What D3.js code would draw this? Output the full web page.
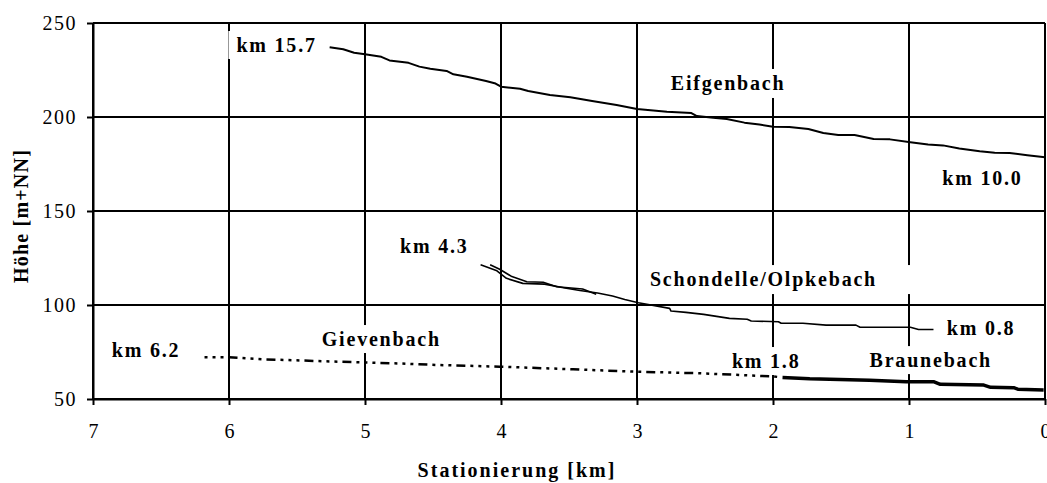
<!DOCTYPE html>
<html>
<head>
<meta charset="utf-8">
<script src="https://cdn.jsdelivr.net/npm/d3@7"></script>
<style>
  html, body { margin: 0; padding: 0; background: #fff; }
  svg { display: block; }
  text { font-family: "Liberation Serif", "Times New Roman", serif; fill: #000; }
</style>
</head>
<body>
<svg id="chart" width="1047" height="483"></svg>
<script>
// Axis ticks
const xTicks = [7, 6, 5, 4, 3, 2, 1, 0];
const yTicks = [50, 100, 150, 200, 250];

// Longitudinal profiles: [Stationierung km, Höhe m+NN]
const eifgenbach = [
  [5.26, 237.1], [5.16, 236.0], [5.08, 234.2], [5.00, 233.4], [4.88, 232.0], [4.82, 230.1],
  [4.68, 228.8], [4.60, 226.8], [4.52, 225.7], [4.40, 224.5], [4.35, 222.7], [4.25, 221.4],
  [4.11, 219.1], [4.04, 217.8], [4.00, 216.1], [3.86, 215.0], [3.80, 213.8], [3.64, 211.7],
  [3.49, 210.5], [3.33, 208.5], [3.15, 206.4], [3.00, 204.3], [2.88, 203.4], [2.78, 202.8],
  [2.60, 202.1], [2.56, 200.5], [2.44, 199.6], [2.34, 198.9], [2.21, 197.0], [2.10, 196.0],
  [2.00, 194.8], [1.88, 194.7], [1.74, 193.6], [1.63, 191.5], [1.52, 190.4], [1.40, 190.4],
  [1.26, 188.3], [1.14, 188.1], [0.99, 186.6], [0.86, 185.4], [0.75, 184.9], [0.63, 183.2],
  [0.48, 181.8], [0.37, 181.0], [0.26, 180.9], [0.13, 179.7], [0.00, 178.6]
];

const schondelle = [
  [4.15, 121.4], [4.03, 118.2], [3.96, 114.2], [3.84, 111.5], [3.68, 111.1], [3.53, 109.0],
  [3.42, 107.7], [3.29, 106.4], [3.18, 104.8], [3.09, 102.9], [2.99, 101.2], [2.76, 98.2],
  [2.75, 96.8], [2.64, 96.1], [2.51, 95.0], [2.32, 92.9], [2.19, 92.4], [2.16, 91.5],
  [1.96, 91.1], [1.94, 90.3], [1.78, 90.3], [1.61, 89.3], [1.39, 89.3], [1.36, 88.2],
  [0.99, 88.2], [0.93, 87.0], [0.82, 87.0]
];

const olpkebach = [
  [4.08, 121.4], [4.01, 119.0], [3.92, 115.1], [3.81, 112.4], [3.69, 112.1], [3.59, 109.7],
  [3.40, 108.5], [3.30, 105.7]
];

const gievenbach = [
  [6.18, 72.2], [6.00, 72.2], [5.75, 71.1], [5.48, 70.5], [5.18, 69.8], [4.74, 68.9],
  [4.47, 68.1], [4.01, 67.2], [3.47, 65.8], [3.00, 64.5], [2.54, 63.7], [2.00, 62.0],
  [1.96, 61.7]
];

const braunebach = [
  [1.93, 61.5], [1.73, 60.8], [1.29, 60.0], [1.02, 59.2], [0.82, 59.2], [0.77, 57.8],
  [0.45, 57.4], [0.40, 56.2], [0.23, 56.0], [0.20, 55.2], [0.01, 54.8]
];

// Annotations (anchor in km / m+NN)
const labelText = ["km 15.7", "Eifgenbach", "km 10.0", "km 4.3", "Schondelle/Olpkebach",
                   "km 0.8", "km 6.2", "Gievenbach", "km 1.8", "Braunebach"];
const labelKm = [5.65, 2.33, 0.46, 4.49, 2.07, 0.47, 6.61, 4.88, 2.05, 0.84];
const labelH  = [238.3, 218.1, 167.6, 131.4, 113.8, 87.8, 76.1, 81.9, 70.2, 70.7];

// ---- drawing ----
const svg = d3.select("#chart");
const x = d3.scaleLinear().domain([7, 0]).range([93, 1045]);
const y = d3.scaleLinear().domain([50, 250]).range([399, 23]);

const gGrid = svg.append("g");
const gBoxes = svg.append("g");
const gLines = svg.append("g");
const gLabels = svg.append("g");

// grid
gGrid.selectAll("line.v").data(xTicks).join("line")
  .attr("x1", d => x(d)).attr("x2", d => x(d))
  .attr("y1", y(50)).attr("y2", y(250))
  .attr("stroke", "#000").attr("stroke-width", 2);
gGrid.selectAll("line.h").data(yTicks).join("line")
  .attr("x1", x(7)).attr("x2", x(0))
  .attr("y1", d => y(d)).attr("y2", d => y(d))
  .attr("stroke", "#000").attr("stroke-width", 2);

// axes
const yAxis = d3.axisLeft(y).tickValues(yTicks).tickSize(6).tickSizeOuter(0).tickPadding(10)
  .tickFormat(d3.format("d"));
const xAxis = d3.axisBottom(x).tickValues(xTicks).tickSize(6).tickSizeOuter(0).tickPadding(19)
  .tickFormat(d3.format("d"));

const ya = svg.append("g").attr("transform", `translate(${x(7)},0)`).call(yAxis);
const xa = svg.append("g").attr("transform", `translate(0,${y(50)})`).call(xAxis);
[ya, xa].forEach(a => {
  a.select(".domain").attr("stroke", "#000").attr("stroke-width", 2);
  a.selectAll(".tick line").attr("stroke", "#000").attr("stroke-width", 2);
  a.selectAll(".tick text")
    .style("font-family", '"Liberation Serif", "Times New Roman", serif')
    .style("font-size", "20px").attr("fill", "#000");
});
ya.selectAll(".tick text").style("letter-spacing", "1.5px");

// axis titles
svg.append("text")
  .attr("x", 517).attr("y", 477)
  .attr("text-anchor", "middle")
  .style("font-size", "20px").style("font-weight", "bold").style("letter-spacing", "2px")
  .text("Stationierung [km]");
svg.append("text")
  .attr("transform", "translate(21,216) rotate(-90)")
  .attr("text-anchor", "middle").attr("dy", "0.35em")
  .style("font-size", "20px").style("font-weight", "bold").style("letter-spacing", "1.2px")
  .text("Höhe [m+NN]");

// profile lines
const line = d3.line().x(d => x(d[0])).y(d => y(d[1]));
gLines.append("path").datum(eifgenbach).attr("d", line)
  .attr("fill", "none").attr("stroke", "#000").attr("stroke-width", 2).attr("stroke-linejoin", "round");
gLines.append("path").datum(schondelle).attr("d", line)
  .attr("fill", "none").attr("stroke", "#000").attr("stroke-width", 1.6).attr("stroke-linejoin", "round");
gLines.append("path").datum(olpkebach).attr("d", line)
  .attr("fill", "none").attr("stroke", "#000").attr("stroke-width", 1.6).attr("stroke-linejoin", "round");
gLines.append("path").datum(gievenbach).attr("d", line)
  .attr("fill", "none").attr("stroke", "#000").attr("stroke-width", 2.5)
  .attr("stroke-dasharray", "3,5,3,5,3,5,9,5");
gLines.append("path").datum(braunebach).attr("d", line)
  .attr("fill", "none").attr("stroke", "#000").attr("stroke-width", 3.5).attr("stroke-linejoin", "round");

// annotations with white backing boxes
const extraRight = { "Schondelle/Olpkebach": 28 };
labelText.forEach((t, i) => {
  const txt = gLabels.append("text")
    .attr("x", x(labelKm[i])).attr("y", y(labelH[i]))
    .attr("dy", "0.35em").attr("text-anchor", "middle")
    .style("font-size", "20px").style("font-weight", "bold").style("letter-spacing", "1.8px")
    .text(t);
  const bb = txt.node().getBBox();
  gBoxes.append("rect")
    .attr("x", bb.x - 8).attr("y", bb.y - 3)
    .attr("width", bb.width + 16 + (extraRight[t] || 0)).attr("height", bb.height + 6)
    .attr("fill", "#fff");
});
</script>
</body>
</html>
